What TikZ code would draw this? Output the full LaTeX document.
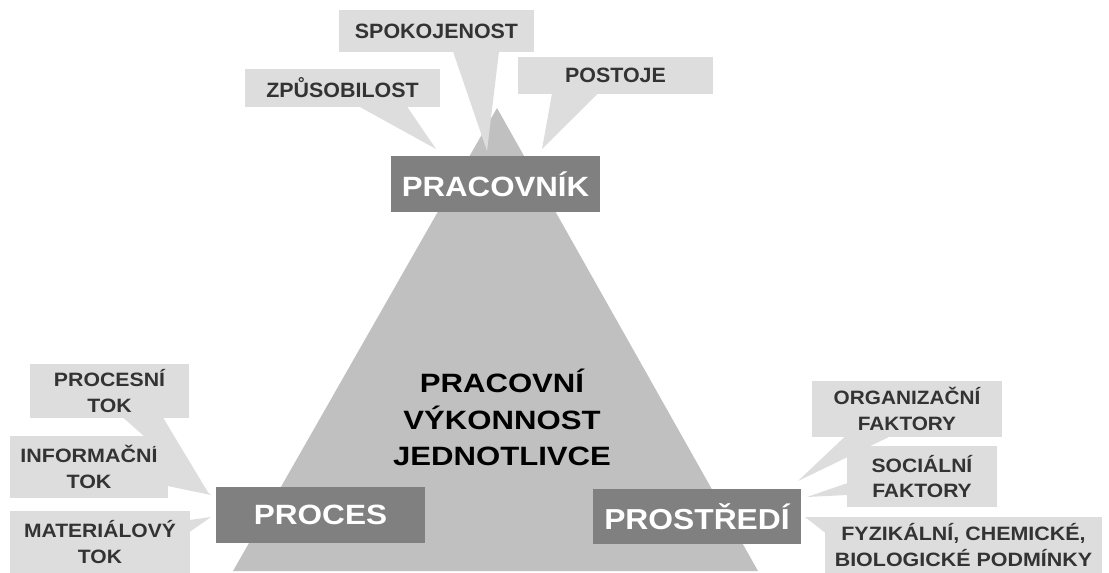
\documentclass[tikz,border=0pt]{standalone}
\usepackage{fontspec}
\setmainfont{Liberation Sans}
\usetikzlibrary{calc}

\definecolor{pyramidgray}{HTML}{C0C0C0}
\definecolor{headgray}{HTML}{808080}
\definecolor{notegray}{HTML}{DDDDDD}
\definecolor{notetext}{HTML}{333333}

\tikzset{
  plainbox/.style={rectangle, inner sep=0pt, outer sep=0pt, align=center},
  headbox/.style={plainbox, fill=headgray, text=white,
    font=\bfseries\fontsize{28}{32}\selectfont\addfontfeatures{FakeStretch=#1}},
  headbox/.default=1.12,
  notebox/.style={plainbox, fill=notegray, text=notetext,
    font=\bfseries\fontsize{19.4}{26}\selectfont\addfontfeatures{FakeStretch=#1}},
  notebox/.default=1.10,
  topnote/.style={plainbox, fill=notegray, text=notetext,
    font=\bfseries\fontsize{20.8}{24}\selectfont\addfontfeatures{FakeStretch=1.034}},
  tail/.style={fill=notegray},
  pyramid/.style={fill=pyramidgray},
  centretext/.style={plainbox, text=black,
    font=\bfseries\fontsize{26.6}{36.3}\selectfont\addfontfeatures{FakeStretch=1.174}},
}

\begin{document}
\begin{tikzpicture}[x=1bp, y=-1bp]
  \useasboundingbox (0,0) rectangle (1109,573);

  % the pyramid
  \coordinate (apex) at (497,108);
  \coordinate (baseL) at (233,571);
  \coordinate (baseR) at (758,571);
  \fill[pyramid] (apex) -- (baseR) -- (baseL) -- cycle;

  % callouts above the worker
  \node[topnote, minimum width=195bp, minimum height=42bp] (spok) at (436.5,31) {SPOKOJENOST};
  \node[topnote, minimum width=195bp, minimum height=38bp] (zpus) at (342.5,88) {ZPŮSOBILOST};
  \node[topnote, minimum width=195bp, minimum height=37bp] (post) at (615.5,75.5) {POSTOJE};

  % callouts left of the process
  \node[notebox=1.10, minimum width=159bp, minimum height=54bp] (procesni) at (109.5,391) {PROCESNÍ\\TOK};
  \node[notebox=1.11, minimum width=158bp, minimum height=62bp] (informacni) at (89,467) {INFORMAČNÍ\\TOK};
  \node[notebox=1.09, minimum width=180bp, minimum height=62bp] (material) at (100,542) {MATERIÁLOVÝ\\TOK};

  % callouts right of the environment
  \node[notebox=1.075, minimum width=190bp, minimum height=56bp] (organiz) at (907,409) {ORGANIZAČNÍ\\FAKTORY};
  \node[notebox=1.09, minimum width=150bp, minimum height=61bp] (social) at (922,476.5) {SOCIÁLNÍ\\FAKTORY};
  \node[notebox=1.11, minimum width=277bp, minimum height=56bp] (fyzik) at (963.5,545) {FYZIKÁLNÍ, CHEMICKÉ,\\BIOLOGICKÉ PODMÍNKY};

  % tips of the callout tails
  \coordinate (spoktip) at (487,151);
  \coordinate (zpustip) at (436,149);
  \coordinate (posttip) at (542,149);
  \coordinate (procesnitip) at (209,494);
  \coordinate (informacnitip) at (211,495);
  \coordinate (materialtip) at (211,517);
  \coordinate (organiztip) at (798,481);
  \coordinate (socialtip) at (807,497);
  \coordinate (fyziktip) at (805,517);

  % callout tails
  \fill[tail] ($(spok.south west)+(114,-0.5)$) -- (spoktip) -- ($(spok.south west)+(160,-0.5)$) -- cycle;
  \fill[tail] ($(zpus.south west)+(114,-0.5)$) -- (zpustip) -- ($(zpus.south west)+(162,-0.5)$) -- cycle;
  \fill[tail] ($(post.south west)+(34,-0.5)$) -- (posttip) -- ($(post.south west)+(80,-0.5)$) -- cycle;
  \fill[tail] ($(procesni.south west)+(93,-0.5)$) -- (procesnitip) -- ($(procesni.south west)+(133,-0.5)$) -- cycle;
  \fill[tail] ($(informacni.north east)+(-0.5,21)$) -- (informacnitip) -- ($(informacni.north east)+(-0.5,50)$) -- cycle;
  \fill[tail] ($(material.north east)+(-0.5,9)$) -- (materialtip) -- ($(material.north east)+(-0.5,21)$) -- cycle;
  \fill[tail] ($(organiz.south west)+(33,-0.5)$) -- (organiztip) -- ($(organiz.south west)+(78,-0.5)$) -- cycle;
  \fill[tail] ($(social.north west)+(0.5,37)$) -- (socialtip) -- ($(social.north west)+(0.5,49)$) -- cycle;
  \fill[tail] ($(fyzik.north west)+(0.5,0)$) -- (fyziktip) -- ($(fyzik.north west)+(0.5,16)$) -- cycle;

  % the three corner boxes
  \node[headbox=1.12, minimum width=209bp, minimum height=56bp] (pracovnik) at (495.5,184) {PRACOVNÍK};
  \node[headbox=1.13, minimum width=209bp, minimum height=56bp] (proces) at (320.5,515) {PROCES};
  \node[plainbox, fill=headgray, text=white, font=\bfseries\fontsize{29}{32}\selectfont\addfontfeatures{FakeStretch=1.1},
        minimum width=208bp, minimum height=55bp] (prostredi) at (697,516.5) {PROSTŘEDÍ};

  % centre of the pyramid
  \node[centretext] (vykon) at (502,417.5) {PRACOVNÍ\\VÝKONNOST\\JEDNOTLIVCE};
\end{tikzpicture}
\end{document}
